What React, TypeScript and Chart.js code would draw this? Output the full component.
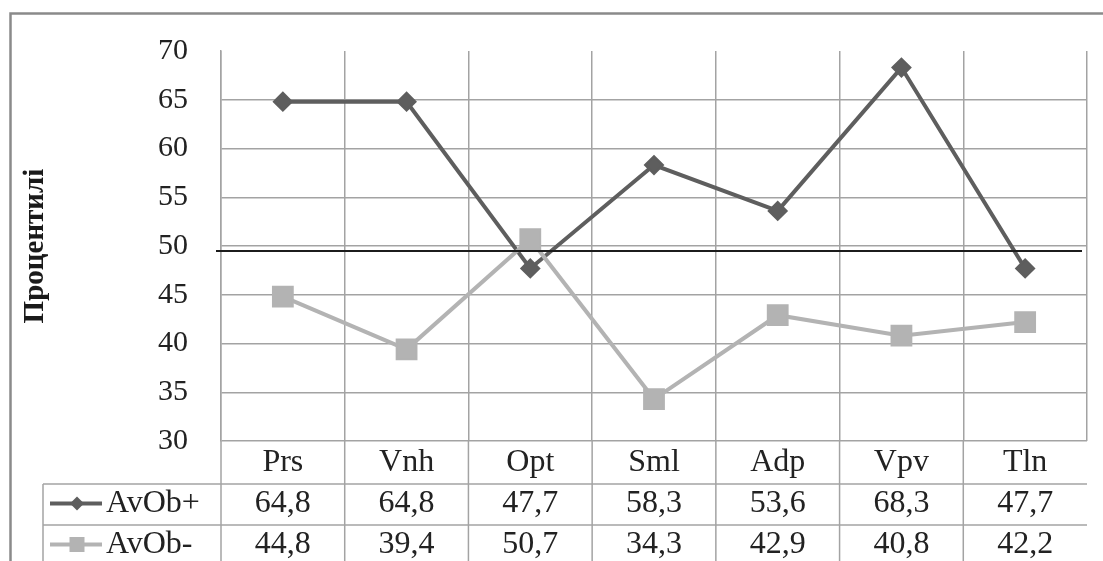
import { useEffect, useRef } from 'react';
import { Chart, registerables } from 'chart.js';

Chart.register(...registerables);

// ---- data ----
const categories = ['Prs', 'Vnh', 'Opt', 'Sml', 'Adp', 'Vpv', 'Tln'];
const seriesLabels = ['AvOb+', 'AvOb-'];
const plusPercentiles = [64.8, 64.8, 47.7, 58.3, 53.6, 68.3, 47.7];
const minusPercentiles = [44.8, 39.4, 50.7, 34.3, 42.9, 40.8, 42.2];
const yTickValues = [30, 35, 40, 45, 50, 55, 60, 65, 70];
const referenceValue = [49.5];
const yAxisTitle = ['Процентилі'];

// ---- look ----
const FAMILY = 'Liberation Serif, serif';
const DARK = '#5e5e5e';
const LIGHT = '#b3b3b3';
const GRID = '#a3a3a3';
const INK = '#222222';
const W = 1103;
const H = 561;

const comma = (v: number) => v.toFixed(1).replace('.', ',');

const tableAndFrame = {
  id: 'tableAndFrame',
  beforeDraw(chart: any) {
    const g = chart.ctx;
    g.save();
    g.fillStyle = '#ffffff';
    g.fillRect(0, 0, chart.width, chart.height);
    g.strokeStyle = '#8a8a8a';
    g.lineWidth = 2.5;
    g.strokeRect(10.5, 13.5, chart.width + 20, chart.height + 40);
    g.restore();
  },
  afterDatasetsDraw(chart: any) {
    const g = chart.ctx;
    const a = chart.chartArea;
    const yy = chart.scales.y.getPixelForValue(referenceValue[0]);
    g.save();
    g.strokeStyle = '#1c1c1c';
    g.lineWidth = 2;
    g.beginPath();
    g.moveTo(a.left - 5, yy);
    g.lineTo(a.right - 5, yy);
    g.stroke();
    g.restore();
  },
  afterDraw(chart: any) {
    const g = chart.ctx;
    const xs = chart.scales.x;
    const a = chart.chartArea;
    const n = categories.length;
    const mids = categories.map((_, i) => xs.getPixelForValue(i));
    const edges: number[] = [];
    for (let i = 0; i <= n; i++) {
      if (i === 0) edges.push(a.left);
      else if (i === n) edges.push(a.right);
      else edges.push((mids[i - 1] + mids[i]) / 2);
    }
    const headBottom = a.bottom + 43;
    const rowH = 41;
    const left = 43;
    const floor = chart.height;

    g.save();
    g.strokeStyle = GRID;
    g.lineWidth = 1.5;
    for (let i = 0; i < n; i++) {
      g.beginPath();
      g.moveTo(edges[i], a.bottom);
      g.lineTo(edges[i], floor);
      g.stroke();
    }
    g.beginPath();
    g.moveTo(left, headBottom);
    g.lineTo(left, floor);
    g.stroke();
    for (let r = 0; r < 2; r++) {
      const yy = headBottom + r * rowH;
      g.beginPath();
      g.moveTo(left, yy);
      g.lineTo(a.right, yy);
      g.stroke();
    }

    const rows = [plusPercentiles, minusPercentiles];
    const cols = [DARK, LIGHT];
    rows.forEach((vals, r) => {
      const cy = headBottom + r * rowH + rowH / 2 - 1;
      g.strokeStyle = cols[r];
      g.fillStyle = cols[r];
      g.lineWidth = 4;
      g.beginPath();
      g.moveTo(50, cy);
      g.lineTo(102, cy);
      g.stroke();
      const mx = 77;
      g.beginPath();
      if (r === 0) {
        const s = 7;
        g.moveTo(mx, cy - s);
        g.lineTo(mx + s, cy);
        g.lineTo(mx, cy + s);
        g.lineTo(mx - s, cy);
        g.closePath();
      } else {
        const s = 7.5;
        g.rect(mx - s, cy - s, 2 * s, 2 * s);
      }
      g.fill();
      g.fillStyle = INK;
      g.font = `32px ${FAMILY}`;
      g.textBaseline = 'middle';
      g.textAlign = 'left';
      g.fillText(seriesLabels[r], 106, cy);
      g.textAlign = 'center';
      vals.forEach((v, i) => g.fillText(comma(v), mids[i], cy));
    });
    g.restore();
  },
};

export default function App() {
  const ref = useRef<HTMLCanvasElement>(null);

  useEffect(() => {
    const canvas = ref.current;
    if (!canvas) return;
    canvas.width = W;
    canvas.height = H;
    const chart = new Chart(canvas, {
      type: 'line',
      data: {
        labels: categories,
        datasets: [
          {
            label: seriesLabels[0],
            data: plusPercentiles,
            borderColor: DARK,
            backgroundColor: DARK,
            borderWidth: 4,
            pointStyle: 'rectRot',
            pointRadius: 9,
            pointBorderWidth: 2,
            tension: 0,
            order: 2,
          },
          {
            label: seriesLabels[1],
            data: minusPercentiles,
            borderColor: LIGHT,
            backgroundColor: LIGHT,
            borderWidth: 4,
            pointStyle: 'rect',
            pointRadius: 14,
            pointBorderWidth: 2,
            tension: 0,
            order: 1,
          },
        ],
      },
      options: {
        responsive: false,
        devicePixelRatio: 1,
        animation: false,
        layout: { padding: { top: 16, right: 4, left: 0, bottom: 0 } },
        plugins: {
          legend: { display: false },
          tooltip: { enabled: false },
        },
        scales: {
          x: {
            type: 'category',
            offset: true,
            grid: {
              offset: true,
              drawTicks: false,
              lineWidth: 1.5,
              color: (c: any) => (c.index === categories.length ? 'rgba(0,0,0,0)' : GRID),
            },
            border: { display: false },
            ticks: {
              padding: 2,
              color: INK,
              font: { family: FAMILY, size: 32 },
              maxRotation: 0,
              autoSkip: false,
            },
            afterFit: (s: any) => {
              s.height = 120;
            },
          },
          y: {
            min: yTickValues[0],
            max: yTickValues[yTickValues.length - 1],
            afterBuildTicks: (s: any) => {
              s.ticks = yTickValues.map((v) => ({ value: v }));
            },
            ticks: {
              padding: 33,
              color: INK,
              font: { family: FAMILY, size: 30 },
            },
            grid: {
              drawTicks: false,
              lineWidth: 1.5,
              color: (c: any) =>
                c.tick && c.tick.value === yTickValues[yTickValues.length - 1] ? 'rgba(0,0,0,0)' : GRID,
            },
            border: { display: true, color: GRID, width: 1.5 },
            title: {
              display: true,
              text: yAxisTitle[0],
              color: '#1a1a1a',
              font: { family: FAMILY, size: 29, weight: 'bold' },
              padding: { top: 18, bottom: 0 },
            },
            afterFit: (s: any) => {
              s.width = 221;
            },
          },
        },
      },
      plugins: [tableAndFrame],
    });
    return () => chart.destroy();
  }, []);

  return (
    <div style={{ position: 'fixed', left: 0, top: 0, width: W, height: H, background: '#ffffff' }}>
      <canvas ref={ref} width={W} height={H} style={{ display: 'block', width: W, height: H }} />
    </div>
  );
}
